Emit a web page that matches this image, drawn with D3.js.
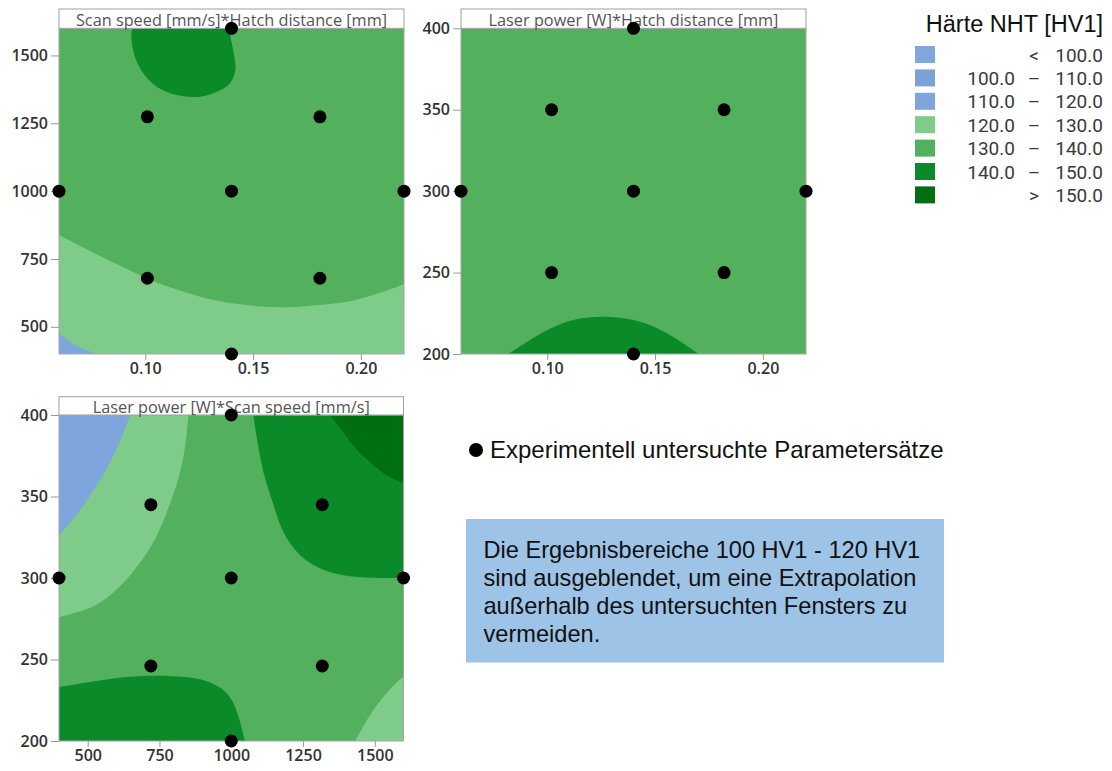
<!DOCTYPE html>
<html>
<head>
<meta charset="utf-8">
<script src="https://cdn.jsdelivr.net/npm/d3@7"></script>
<style>
  body { margin: 0; background: #fff; }
  svg { display: block; }
</style>
</head>
<body>
<svg id="chart" width="1112" height="771"></svg>
<script>
// ================= DATA =================
// Hardness bands (HV1)
const bandKeys  = ["<100", "100-110", "110-120", "120-130", "130-140", "140-150", ">150"];
const bandLow   = [null, 100, 110, 120, 130, 140, 150];
const bandHigh  = [100, 110, 120, 130, 140, 150, null];
const legendTitle = "Härte NHT [HV1]";

// Panel titles
const panelTitles = [
  "Scan speed [mm/s]*Hatch distance [mm]",
  "Laser power [W]*Hatch distance [mm]",
  "Laser power [W]*Scan speed [mm/s]"
];

// Axis domains and ticks
const hatchDomain = [0.06, 0.22];
const hatchTicks  = [0.10, 0.15, 0.20];
const speedDomain = [400, 1600];
const speedTicks  = [500, 750, 1000, 1250, 1500];
const powerDomain = [200, 400];
const powerTicks  = [200, 250, 300, 350, 400];

// Experimentally investigated parameter sets (as plotted)
const panel1Points = [[0.14,1600],[0.101,1274],[0.181,1274],[0.06,1000],[0.14,1000],[0.22,1000],[0.101,679],[0.181,679],[0.14,400]];
const panel2Points = [[0.14,400],[0.102,350],[0.182,350],[0.06,300],[0.14,300],[0.22,300],[0.102,250],[0.182,250],[0.14,200]];
const panel3Points = [[1000,400],[720,345],[1317,345],[400,300],[1000,300],[1600,300],[720,246],[1317,246],[1000,200]];

// Contour boundaries (x-value, y-value)
// Panel 1: hatch distance (x) vs scan speed (y), background band 130-140
const p1Contour130 = [[0.06,838],[0.0736,783],[0.0891,722],[0.1045,666],[0.12,624],[0.1355,593],[0.1509,577],[0.1663,572],[0.1818,581],[0.1973,599],[0.2127,636],[0.22,658]];
const p1Contour120 = [[0.06,476],[0.0674,433],[0.0775,400]];
const p1Contour140 = [[0.0942,1600],[0.0937,1557],[0.0952,1495],[0.0991,1434],[0.1053,1385],[0.1146,1354],[0.1254,1348],[0.1331,1366],[0.1393,1397],[0.1418,1446],[0.1412,1500],[0.1398,1557],[0.1383,1600],[0.128,1660],[0.104,1660]];
// Panel 2: hatch distance (x) vs laser power (y), background band 130-140
const p2Contour140 = [[0.082,200],[0.100,214.7],[0.1121,220.9],[0.1276,222.9],[0.1431,219.8],[0.1555,212.7],[0.1702,200]];
// Panel 3: scan speed (x) vs laser power (y), background band 130-140
const p3Contour120       = [[647,400],[618,386],[572,369],[525,355],[479,343],[432,332.5],[400,326.4]];
const p3Contour130Top    = [[851,400],[839,380],[816,361],[781,343],[735,324],[676,308],[607,294],[525,283],[400,276]];
const p3Contour140Top    = [[1077,400],[1089,386],[1112,365],[1147,345],[1182,328],[1240,314],[1321,305],[1414,301],[1519,300],[1600,300]];
const p3Contour150       = [[1344,400],[1379,392],[1426,381],[1484,371],[1542,363],[1600,358]];
const p3Contour140Bottom = [[400,233],[502,236],[618,239],[735,240],[851,239],[909,237],[967,232],[1002,225],[1025,215],[1048,200]];
const p3Contour130Bottom = [[1432,200],[1460,209],[1495,219],[1530,227],[1565,234],[1600,239.5]];

const markerLabel = "Experimentell untersuchte Parametersätze";
const noteLines = [
  "Die Ergebnisbereiche 100 HV1 - 120 HV1",
  "sind ausgeblendet, um eine Extrapolation",
  "außerhalb des untersuchten Fensters zu",
  "vermeiden."
];

// ================= STYLES / LAYOUT =================
const bandColor = {
  "<100": "#80a7dd", "100-110": "#7ba1d9", "110-120": "#7fa6dc",
  "120-130": "#7ecb8a", "130-140": "#53b05c", "140-150": "#0a8a28", ">150": "#006f12"
};
const axisFont = "'Open Sans', 'Noto Sans', sans-serif";
const legendFont = "Roboto, 'Open Sans', sans-serif";
const arialFont = "'Liberation Sans', Arial, sans-serif";

const svg = d3.select("#chart");
svg.append("rect").attr("width", 1112).attr("height", 771).attr("fill", "#fff");

const panels = [
  {
    title: panelTitles[0], box: {left: 59, right: 404, top: 28.3, bottom: 354, bandTop: 9},
    xDomain: hatchDomain, yDomain: speedDomain, xTicks: hatchTicks, yTicks: speedTicks, xFmt: d3.format(".2f"),
    base: "130-140", points: panel1Points,
    regions: [
      {band: "120-130", edge: p1Contour130, corners: [[0.22,400],[0.06,400]]},
      {band: "110-120", edge: p1Contour120, corners: [[0.06,400]]},
      {band: "140-150", edge: p1Contour140, closed: true}
    ]
  },
  {
    title: panelTitles[1], box: {left: 461, right: 806, top: 28.3, bottom: 354, bandTop: 9},
    xDomain: hatchDomain, yDomain: powerDomain, xTicks: hatchTicks, yTicks: powerTicks, xFmt: d3.format(".2f"),
    base: "130-140", points: panel2Points,
    regions: [
      {band: "140-150", edge: p2Contour140, corners: []}
    ]
  },
  {
    title: panelTitles[2], box: {left: 59, right: 403.5, top: 415, bottom: 741, bandTop: 396.7},
    xDomain: speedDomain, yDomain: powerDomain, xTicks: speedTicks, yTicks: powerTicks, xFmt: d3.format("d"),
    base: "130-140", points: panel3Points,
    regions: [
      {band: "120-130", edge: p3Contour130Top, corners: [[400,400]]},
      {band: "110-120", edge: p3Contour120, corners: [[400,400]]},
      {band: "140-150", edge: p3Contour140Top, corners: [[1600,400]]},
      {band: ">150", edge: p3Contour150, corners: [[1600,400]]},
      {band: "140-150", edge: p3Contour140Bottom, corners: [[400,200]]},
      {band: "120-130", edge: p3Contour130Bottom, corners: [[1600,200]]}
    ]
  }
];

panels.forEach((p, i) => {
  const b = p.box;
  const x = d3.scaleLinear().domain(p.xDomain).range([b.left, b.right]);
  const y = d3.scaleLinear().domain(p.yDomain).range([b.bottom, b.top]);
  const g = svg.append("g");
  const clipId = "clip" + i;
  svg.append("defs").append("clipPath").attr("id", clipId)
    .append("rect").attr("x", b.left).attr("y", b.top)
    .attr("width", b.right - b.left).attr("height", b.bottom - b.top);

  const plot = g.append("g").attr("clip-path", `url(#${clipId})`);
  plot.append("rect").attr("x", b.left).attr("y", b.top)
    .attr("width", b.right - b.left).attr("height", b.bottom - b.top)
    .attr("fill", bandColor[p.base]);

  p.regions.forEach(r => {
    let d;
    if (r.closed) {
      d = d3.line().x(v => x(v[0])).y(v => y(v[1])).curve(d3.curveCatmullRomClosed.alpha(0.5))(r.edge);
    } else {
      d = d3.line().x(v => x(v[0])).y(v => y(v[1])).curve(d3.curveCatmullRom.alpha(0.5))(r.edge);
      d += r.corners.map(c => `L${x(c[0])},${y(c[1])}`).join("") + "Z";
    }
    plot.append("path").attr("d", d).attr("fill", bandColor[r.band]);
  });

  // plot border
  g.append("rect").attr("x", b.left).attr("y", b.top)
    .attr("width", b.right - b.left).attr("height", b.bottom - b.top)
    .attr("fill", "none").attr("stroke", "#a6a6a6").attr("stroke-width", 1);

  // title band
  g.append("rect").attr("x", b.left).attr("y", b.bandTop)
    .attr("width", b.right - b.left).attr("height", b.top - b.bandTop)
    .attr("fill", "#fff").attr("stroke", "#a0a0a0").attr("stroke-width", 1);
  g.append("text").attr("x", (b.left + b.right) / 2).attr("y", b.top - 2.3)
    .attr("text-anchor", "middle").attr("font-family", axisFont).attr("font-size", 16.3)
    .attr("fill", "#555").text(p.title);

  // axes
  const ya = g.append("g").attr("transform", `translate(${b.left},0)`)
    .call(d3.axisLeft(y).tickValues(p.yTicks).tickFormat(d3.format("d")).tickSize(8).tickPadding(3));
  const xa = g.append("g").attr("transform", `translate(0,${b.bottom})`)
    .call(d3.axisBottom(x).tickValues(p.xTicks).tickFormat(p.xFmt).tickSize(6).tickPadding(3));
  [ya, xa].forEach(a => {
    a.select(".domain").remove();
    a.selectAll(".tick line").attr("stroke", "#9a9a9a");
    a.selectAll(".tick text").attr("font-family", axisFont).attr("font-size", 16)
      .attr("font-weight", 600).attr("fill", "#333");
  });

  // points
  g.append("g").selectAll("circle").data(p.points).join("circle")
    .attr("cx", d => x(d[0])).attr("cy", d => y(d[1])).attr("r", 6.5).attr("fill", "#000");
});

// ================= LEGEND =================
const leg = svg.append("g");
leg.append("text").attr("x", 1103).attr("y", 32).attr("text-anchor", "end")
  .attr("font-family", arialFont).attr("font-size", 23.5).attr("fill", "#111").text(legendTitle);
const fmt1 = d3.format(".1f");
bandKeys.forEach((k, i) => {
  const cy = 54.5 + 23.4 * i;
  leg.append("rect").attr("x", 915).attr("y", cy - 8.5).attr("width", 20).attr("height", 17)
    .attr("fill", bandColor[k]);
  const t = {"font-family": legendFont, "font-size": 19, "fill": "#3a3a3a"};
  const add = (xx, anchor, s) => {
    const e = leg.append("text").attr("x", xx).attr("y", cy + 7).attr("text-anchor", anchor).text(s);
    Object.entries(t).forEach(([a, v]) => e.attr(a, v));
  };
  if (bandLow[i] === null) {
    add(1034, "middle", "<");
    add(1103, "end", fmt1(bandHigh[i]));
  } else if (bandHigh[i] === null) {
    add(1034, "middle", ">");
    add(1103, "end", fmt1(bandLow[i]));
  } else {
    add(1015, "end", fmt1(bandLow[i]));
    add(1034, "middle", "–");
    add(1103, "end", fmt1(bandHigh[i]));
  }
});

// marker explanation
svg.append("circle").attr("cx", 476).attr("cy", 450).attr("r", 7).attr("fill", "#000");
svg.append("text").attr("x", 490).attr("y", 457.5).attr("font-family", arialFont)
  .attr("font-size", 24).attr("fill", "#111").text(markerLabel);

// note box
svg.append("rect").attr("x", 466).attr("y", 519).attr("width", 478).attr("height", 143.5)
  .attr("fill", "#9dc3e6");
noteLines.forEach((s, i) => {
  svg.append("text").attr("x", 483.5).attr("y", 557.5 + 28 * i).attr("font-family", arialFont)
    .attr("font-size", 23.6).attr("fill", "#111").text(s);
});
</script>
</body>
</html>
